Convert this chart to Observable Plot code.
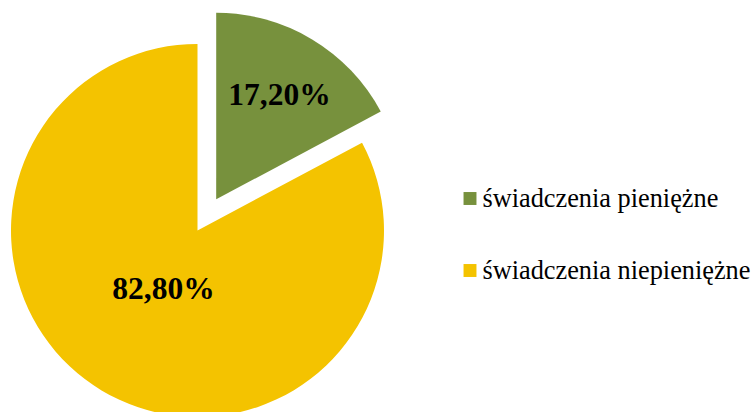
<!DOCTYPE html>
<html>
<head>
<meta charset="utf-8">
<script src="https://cdn.jsdelivr.net/npm/d3@7"></script>
<script src="https://cdn.jsdelivr.net/npm/@observablehq/plot@0.6"></script>
<style>
  html, body { margin: 0; padding: 0; background: #fff; }
  #wrap { position: relative; width: 754px; height: 412px; overflow: hidden; }
  #chart { position: absolute; left: 0; top: 0; }
  #legend { position: absolute; left: 440px; top: 0; }
</style>
</head>
<body>
<div id="wrap"><div id="chart"></div><div id="legend"></div></div>
<script>
const categories = ["świadczenia pieniężne", "świadczenia niepieniężne"];
const values = [17.2, 82.8];
const valueLabels = ["17,20%", "82,80%"];
const colors = ["#77913D", "#F4C300"];
const explode = [0.195, 0];
const labelRadius = [0.655, 0.36];

const data = categories.map((c, i) => ({category: c, value: values[i], label: valueLabels[i], color: colors[i], explode: explode[i], lr: labelRadius[i]}));
const arcs = d3.pie().sort(null).value(d => d.value)(data);
arcs.forEach(a => {
  const mid = (a.startAngle + a.endAngle) / 2;
  a.ox = a.data.explode * Math.sin(mid);
  a.oy = a.data.explode * Math.cos(mid);
  a.lx = a.ox + a.data.lr * Math.sin(mid);
  a.ly = a.oy + a.data.lr * Math.cos(mid);
});

const W = 440, H = 412, R = 186.5, CX = 197.5, CY = 230.5;

const pieMark = (index, scales) => {
  const sx = scales.x, sy = scales.y;
  const r = sx(1) - sx(0);
  const arcGen = d3.arc().innerRadius(0).outerRadius(r);
  const g = d3.create("svg:g");
  for (const a of arcs) {
    g.append("path")
      .attr("d", arcGen(a))
      .attr("fill", a.data.color)
      .attr("transform", `translate(${sx(a.ox)},${sy(a.oy)})`);
  }
  return g.node();
};

const plot = Plot.plot({
  width: W,
  height: H,
  margin: 0,
  x: {domain: [-CX / R, (W - CX) / R], axis: null},
  y: {domain: [-(H - CY) / R, CY / R], axis: null},
  marks: [
    pieMark,
    Plot.text(arcs, {
      x: "lx", y: "ly", text: d => d.data.label,
      fontFamily: "Liberation Serif", fontWeight: "bold", fontSize: 31.5, fill: "#000"
    })
  ]
});
document.getElementById("chart").appendChild(plot);

// Legend drawn with its own Plot, rows placed by a point scale over the categories
const legendPlot = Plot.plot({
  width: 314,
  height: H,
  margin: 0,
  x: {domain: [0, 314], range: [0, 314], axis: null},
  y: {type: "point", domain: categories, range: [197.5, 270], padding: 0, axis: null},
  marks: [
    Plot.dot(data, {x: () => 29.5, y: "category", fill: "color", symbol: "square", r: 7.3, stroke: null}),
    Plot.text(data, {
      x: () => 42, y: "category", text: "category", textAnchor: "start",
      fontFamily: "Liberation Serif", fontSize: 26.3, fill: "#000"
    })
  ]
});
document.getElementById("legend").appendChild(legendPlot);
</script>
</body>
</html>
